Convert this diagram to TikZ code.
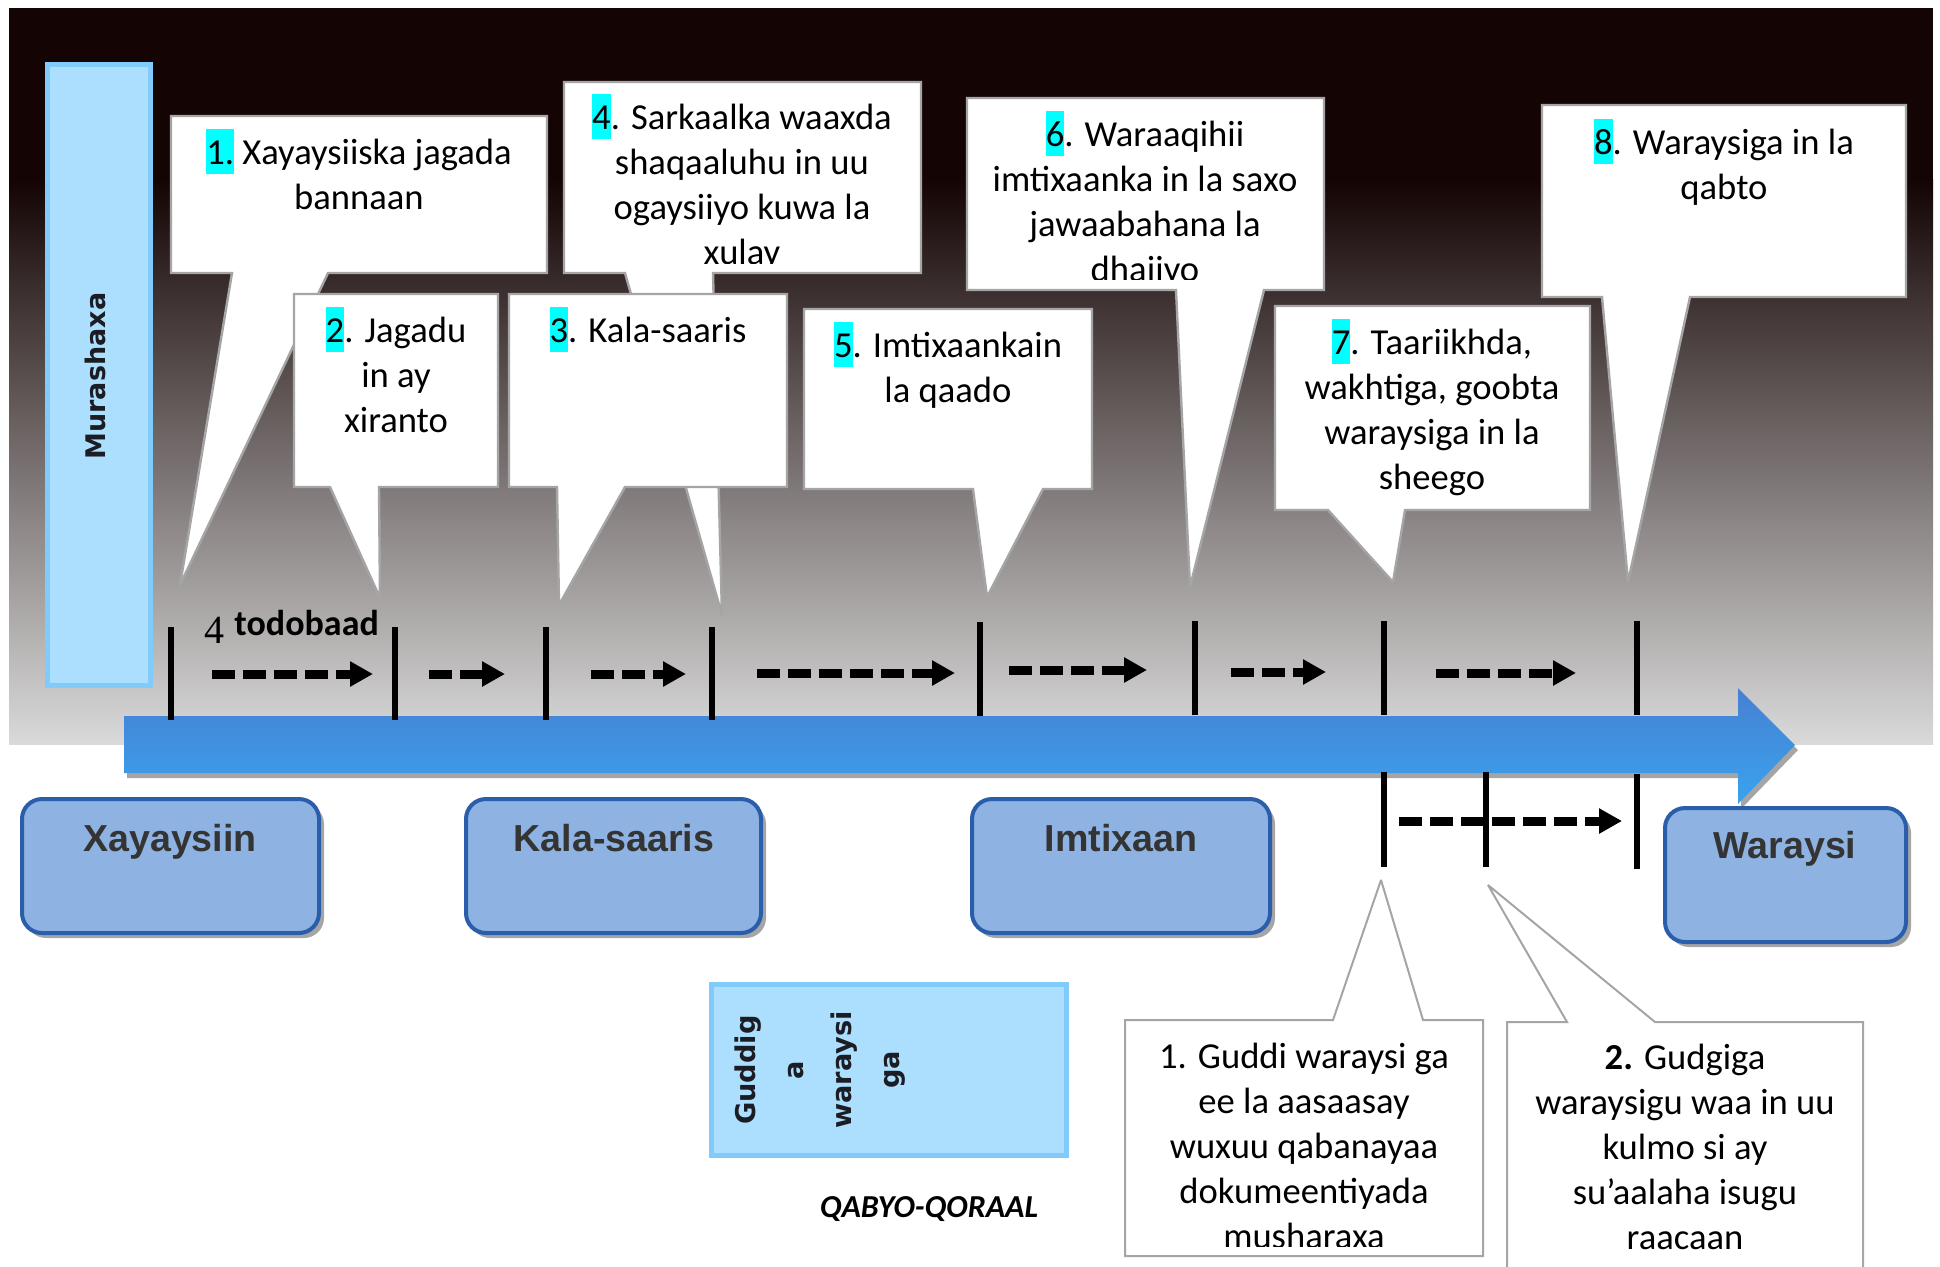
\documentclass[tikz,border=0pt]{standalone}
\usepackage{fontspec}
\setmainfont{Carlito}
\newfontfamily\verdfont{DejaVu Sans}
\newfontfamily\arialfont{Liberation Sans}
\newfontfamily\timesfont{Liberation Serif}
\usetikzlibrary{arrows.meta}

\definecolor{bgtop}{RGB}{20,4,4}
\definecolor{bgbot}{RGB}{218,218,218}
\definecolor{skyfill}{RGB}{171,223,253}
\definecolor{skyline}{RGB}{128,203,250}
\definecolor{calloutline}{RGB}{165,165,165}
\definecolor{stagefill}{RGB}{142,179,226}
\definecolor{stageline}{RGB}{42,94,170}
\definecolor{stagetext}{RGB}{52,52,52}
\definecolor{arrowtop}{RGB}{70,128,210}
\definecolor{arrowbot}{RGB}{58,163,238}
\definecolor{shadowgray}{RGB}{165,165,165}
\definecolor{hlcyan}{RGB}{0,255,255}

\newcommand{\numhl}[1]{{\setlength{\fboxsep}{0pt}\colorbox{hlcyan}{\rule[-0.269em]{0pt}{1.221em}#1}}}

\begin{document}
\begin{tikzpicture}[x=0.5pt,y=-0.5pt,
  callout/.style={fill=white,draw=calloutline,line width=1.2pt,miter limit=2},
  lowcallout/.style={fill=white,draw=calloutline,line width=1pt,miter limit=2},
  txt/.style={anchor=north,inner sep=0pt,align=center,font=\fontsize{18.3}{22.5}\selectfont},
  skybox/.style={fill=skyfill,draw=skyline,line width=2.5pt},
  stage/.style={fill=stagefill,draw=stageline,line width=2pt,rounded corners=10pt},
  stageshadow/.style={fill=shadowgray,rounded corners=10pt},
  stagelbl/.style={anchor=base,inner sep=0pt,text=stagetext,font=\arialfont\bfseries\fontsize{18.8}{22}\selectfont},
  tickmark/.style={line width=3.3pt},
  dasharrow/.style={line width=4.5pt,dash pattern=on 11.5pt off 4pt,-{Triangle[length=11.5pt,width=12pt]}}]
\useasboundingbox (0,0) rectangle (1940,1266);
\clip (0,0) rectangle (1940,1266);

% background
\fill[bgtop] (9,8) rectangle (1933,180);
\shade[top color=bgtop,bottom color=bgbot] (9,179) rectangle (1933,744);

% candidate bar
\draw[skybox] (47,64) rectangle (150,685);
\node[rotate=90,text={rgb,255:red,28;green,28;blue,36},font=\verdfont\bfseries\fontsize{13.5}{16}\selectfont] (M) at (95,376) {Murashaxa};

% upper callouts
\draw[callout] (171,116) -- (547,116) -- (547,273) -- (328,273) -- (180,585) -- (232,273) -- (171,273) -- cycle;
\node[txt] (N1) at (359,129) {\numhl{1.} Xayaysiiska jagada\\bannaan};

\draw[callout] (564,82) -- (921,82) -- (921,273) -- (713,273) -- (722,615) -- (625,273) -- (564,273) -- cycle;
\begin{scope}
\clip (564,82) rectangle (921,263);
\node[txt] (N4) at (742,94) {\numhl{4}. Sarkaalka waaxda\\shaqaaluhu in uu\\ogaysiiyo kuwa la\\xulay};
\end{scope}

\draw[callout] (967,98) -- (1324,98) -- (1324,290) -- (1264,290) -- (1190,587) -- (1176,290) -- (967,290) -- cycle;
\begin{scope}
\clip (967,98) rectangle (1324,279);
\node[txt] (N6) at (1145,111) {\numhl{6}. Waraaqihii\\imtixaanka in la saxo\\jawaabahana la\\dhajiyo};
\end{scope}

\draw[callout] (1542,105) -- (1906,105) -- (1906,297) -- (1690,297) -- (1628,582) -- (1602,297) -- (1542,297) -- cycle;
\node[txt] (N8) at (1724,119) {\numhl{8}. Waraysiga in la\\qabto};

\draw[callout] (294,294) -- (498,294) -- (498,487) -- (379,487) -- (380,598) -- (330,487) -- (294,487) -- cycle;
\node[txt] (N2) at (396,307) {\numhl{2}. Jagadu\\in ay\\xiranto};

\draw[callout] (509,294) -- (787,294) -- (787,487) -- (625,487) -- (559,605) -- (557,487) -- (509,487) -- cycle;
\node[txt] (N3) at (648,307) {\numhl{3}. Kala-saaris};

\draw[callout] (804,309) -- (1092,309) -- (1092,489) -- (1043,489) -- (987,597) -- (973,489) -- (804,489) -- cycle;
\node[txt] (N5) at (948,322) {\numhl{5}. Imtixaankain\\la qaado};

\draw[callout] (1275,306) -- (1590,306) -- (1590,510) -- (1405,510) -- (1393,582) -- (1328,510) -- (1275,510) -- cycle;
\node[txt] (N7) at (1432,319) {\numhl{7}. Taariikhda,\\wakhtiga, goobta\\waraysiga in la\\sheego};

% time line arrow
\fill[shadowgray] (127,721) -- (1741,721) -- (1741,693) -- (1798,750) -- (1741,809) -- (1741,778) -- (127,778) -- cycle;
\shade[top color=arrowtop,bottom color=arrowbot] (124,716) -- (1738,716) -- (1738,688) -- (1795,745) -- (1738,804) -- (1738,773) -- (124,773) -- cycle;

% ticks
\draw[tickmark] (171,627) -- (171,720);
\draw[tickmark] (395,627) -- (395,720);
\draw[tickmark] (546,627) -- (546,720);
\draw[tickmark] (712,627) -- (712,720);
\draw[tickmark] (980,622) -- (980,716);
\draw[tickmark] (1195,621) -- (1195,715);
\draw[tickmark] (1384,621) -- (1384,715);
\draw[tickmark] (1637,621) -- (1637,715);
\draw[tickmark] (1384,772) -- (1384,867);
\draw[tickmark] (1486,772) -- (1486,867);
\draw[tickmark] (1637,774) -- (1637,869);

% step arrows
\coordinate (a1s) at (212,674); \coordinate (a1e) at (373,674);
\coordinate (a2s) at (429,674); \coordinate (a2e) at (505,674);
\coordinate (a3s) at (591,674); \coordinate (a3e) at (686,674);
\coordinate (a4s) at (757,673); \coordinate (a4e) at (955,673);
\coordinate (a5s) at (1009,670); \coordinate (a5e) at (1147,670);
\coordinate (a6s) at (1231,672); \coordinate (a6e) at (1326,672);
\coordinate (a7s) at (1436,673); \coordinate (a7e) at (1576,673);
\coordinate (a8s) at (1399,821); \coordinate (a8e) at (1622,821);
\draw[dasharrow] (a1s) -- (a1e);
\draw[dasharrow] (a2s) -- (a2e);
\draw[dasharrow] (a3s) -- (a3e);
\draw[dasharrow] (a4s) -- (a4e);
\draw[dasharrow] (a5s) -- (a5e);
\draw[dasharrow] (a6s) -- (a6e);
\draw[dasharrow] (a7s) -- (a7e);
\draw[dasharrow] (a8s) -- (a8e);

\node[anchor=base west,inner sep=0pt,font=\timesfont\fontsize{20}{24}\selectfont] (F) at (204,643) {4};
\node[anchor=base west,inner sep=0pt,font=\bfseries\fontsize{18}{22}\selectfont] (T) at (234,635) {todobaad};

% stages
\fill[stageshadow] (26,804) rectangle (324,938);
\draw[stage] (22,799) rectangle (319,933);
\node[stagelbl] (X) at (170,851) {Xayaysiin};
\fill[stageshadow] (470,804) rectangle (766,938);
\draw[stage] (466,799) rectangle (761,933);
\node[stagelbl] (K) at (614,851) {Kala-saaris};
\fill[stageshadow] (976,804) rectangle (1275,938);
\draw[stage] (972,799) rectangle (1270,933);
\node[stagelbl] (I) at (1121,851) {Imtixaan};
\fill[stageshadow] (1669,813) rectangle (1911,947);
\draw[stage] (1665,808) rectangle (1906,942);
\node[stagelbl] (W) at (1785,858) {Waraysi};

% panel box
\draw[skybox] (711,984) rectangle (1066,1155);
\node[rotate=90,align=center,text={rgb,255:red,28;green,28;blue,36},font=\verdfont\bfseries\fontsize{13.6}{24}\selectfont] (G) at (820,1070) {Guddig\\a\\waraysi\\ga};

\node[anchor=base,inner sep=0pt,font=\bfseries\itshape\fontsize{16}{19}\selectfont] (Q) at (929,1217) {QABYO-QORAAL};

% lower callouts
\draw[lowcallout] (1125,1020) -- (1333,1020) -- (1381,880) -- (1423,1020) -- (1483,1020) -- (1483,1256) -- (1125,1256) -- cycle;
\begin{scope}
\clip (1125,1020) rectangle (1483,1246);
\node[txt] (B1) at (1304,1033) {\rule{0pt}{17.4pt}1. Guddi waraysi ga\\ee la aasaasay\\wuxuu qabanayaa\\dokumeentiyada\\musharaxa};
\end{scope}

\draw[lowcallout] (1507,1022) -- (1567,1022) -- (1488,885) -- (1655,1022) -- (1863,1022) -- (1863,1290) -- (1507,1290) -- cycle;
\node[txt] (B2) at (1685,1034) {\rule{0pt}{17.4pt}\textbf{2.} Gudgiga\\waraysigu waa in uu\\kulmo si ay\\su’aalaha isugu\\raacaan};
\end{tikzpicture}
\end{document}
